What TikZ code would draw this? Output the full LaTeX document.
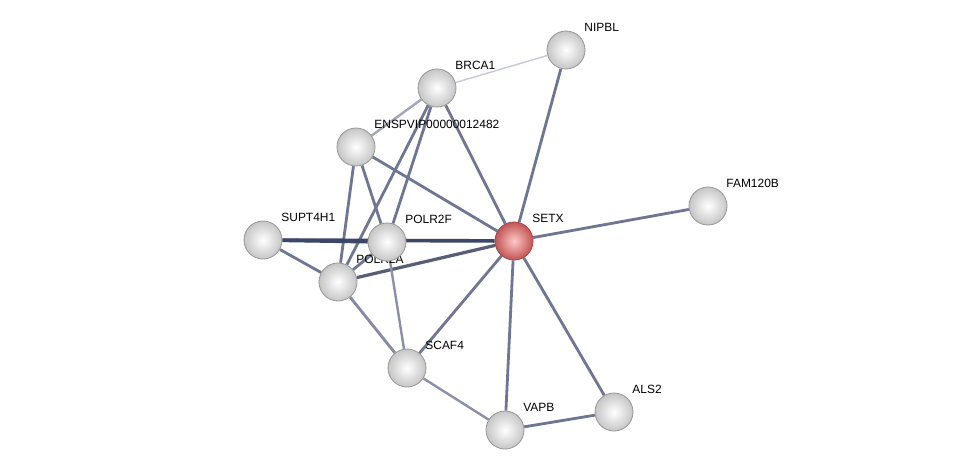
\documentclass[tikz,border=0pt]{standalone}
\usepackage{fontspec}
\setmainfont{Liberation Sans}
\usetikzlibrary{
    positioning,
    backgrounds
    }

\definecolor{edgecol}{HTML}{6E7694}
\definecolor{darkedge}{HTML}{3C4668}
\definecolor{lightedge}{HTML}{C6C9D6}
\definecolor{paleedge}{HTML}{8A90AA}
\definecolor{setxrim}{HTML}{C25454}

\begin{document}
\begin{tikzpicture}[x=0.025cm, y=-0.025cm]
\tikzset{protein/.style =
        {
            shape=circle,
            minimum size=0.95cm,
            inner sep=0pt,
            inner color=white,
            outer color=gray!45,
            draw=gray!80,
            line width=0.6pt
        }
}

\tikzset{query/.style =
        {
            protein,
            inner color=red!22,
            outer color=setxrim,
            draw=setxrim!85!black
        }
}

\tikzset{lbl/.style =
        {
            font=\fontsize{8.5}{10}\selectfont,
            inner sep=1pt,
            text=black
        }
}

\tikzset{every label/.style = {lbl}, label distance=3pt}

\tikzset{link/.style = {
            line width=2pt,
            edgecol
        }
}

\tikzset{strong/.style = {
            link,
            line width=2.6pt,
            darkedge
        }
}

\tikzset{weak/.style = {
            link,
            line width=1.7pt,
            paleedge
        }
}

\tikzset{faint/.style = {
            line width=1pt,
            lightedge
        }
}

		\useasboundingbox (0,0) rectangle (975,475);

		\node[protein, label=45:NIPBL] (nipbl) at (566,50) {};
		\node[protein, label=45:BRCA1] (brca1) at (437,88) {};
		\node[protein, label=45:ENSPVIP00000012482] (enspvip) at (356,147) {};
		\node[protein, label=45:SUPT4H1] (supt4h1) at (263,240) {};
		\node[protein, label=45:POLR2A] (polr2a) at (338,282) {};
		\node[protein, label=45:POLR2F] (polr2f) at (387,242) {};
		\node[query, label=45:SETX] (setx) at (514,241) {};
		\node[protein, label=45:FAM120B] (fam120b) at (708,206) {};
		\node[protein, label=45:SCAF4] (scaf4) at (407,368) {};
		\node[protein, label=45:VAPB] (vapb) at (505,430) {};
		\node[protein, label=45:ALS2] (als2) at (614,412) {};

		\begin{scope}[on background layer]
			\draw[faint] (brca1) -- (nipbl);
			\draw[weak, paleedge!80!white] (brca1) -- (enspvip);
			\foreach \a / \b in
				{nipbl/setx,
					brca1/setx,
					brca1/polr2a,
					brca1/polr2f,
					enspvip/setx,
					enspvip/polr2a,
					enspvip/polr2f,
					supt4h1/polr2a,
					polr2a/polr2f,
					setx/fam120b,
					setx/scaf4,
					setx/vapb,
					setx/als2,
					vapb/als2}
			\draw[link] (\a) -- (\b);
			\draw[strong] (supt4h1) -- (setx);
			\draw[strong] (supt4h1) -- (polr2f);
			\draw[link, line width=2.3pt, edgecol!80!black] (polr2a) -- (setx);
			\draw[weak] (polr2f) -- (scaf4);
			\draw[link, edgecol!85!white] (polr2a) -- (scaf4);
			\draw[weak] (scaf4) -- (vapb);
		\end{scope}

	\end{tikzpicture}
\end{document}
